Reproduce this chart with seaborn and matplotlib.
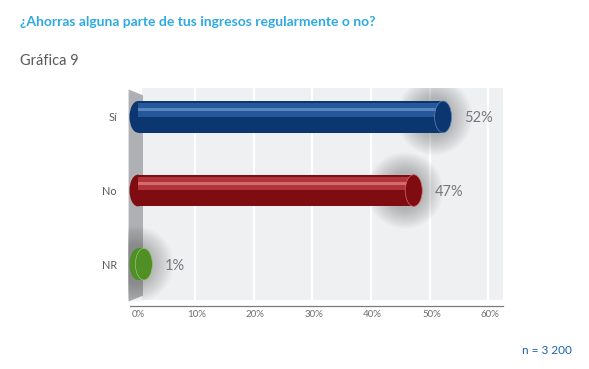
import matplotlib
matplotlib.use("Agg")
import matplotlib.pyplot as plt
from matplotlib.patches import Ellipse, Polygon, Rectangle
import seaborn as sns
import pandas as pd

categories = ["Sí", "No", "NR"]
values = [52, 47, 1]
value_labels = ["52%", "47%", "1%"]
tick_values = [0, 10, 20, 30, 40, 50, 60]
tick_labels = ["0%", "10%", "20%", "30%", "40%", "50%", "60%"]
colors_main = ["#0b3670", "#7e0c10", "#4f8f26"]
colors_top = ["#24589a", "#b0343a", "#72ab44"]
colors_hi = ["#5a86bd", "#d56a6f", "#98c76c"]

sns.set_theme(style="white")
plt.rcParams["font.family"] = ["Lato", "DejaVu Sans"]

fig = plt.figure(figsize=(5.89, 3.69), dpi=100)
W, H = 589, 369
px_left, px_right, px_top, px_bottom = 128, 503, 88, 306
ax = fig.add_axes([px_left / W, 1 - px_bottom / H, (px_right - px_left) / W, (px_bottom - px_top) / H])

x0px, x60px = 138, 490
ppu = (x60px - x0px) / 60.0
xmin = -(x0px - px_left) / ppu
xmax = (px_right - x0px) / ppu
ppy = 74.0
ymin_top = -(117 - px_top) / ppy
ymax_bot = 2 + (px_bottom - 264) / ppy
panel_bottom = 2 + (300 - 264) / ppy

df = pd.DataFrame({"cat": categories, "val": values})
bar_h = 0.43

sns.barplot(data=df, y="cat", x="val", hue="cat", palette=colors_main, orient="h",
            width=bar_h, legend=False, ax=ax, zorder=2, saturation=1, linewidth=0)

# panel background
ax.add_patch(Rectangle((0.6, ymin_top), xmax - 0.6, panel_bottom - ymin_top,
                       facecolor="#eff0f2", edgecolor="none", zorder=0))
for t in tick_values[1:]:
    ax.plot([t - 0.3, t - 0.3], [ymin_top, panel_bottom], color="white", lw=1.6, zorder=0.5)
# side wall
ax.add_patch(Polygon([(xmin + 0.1, ymin_top + 0.02), (0.85, ymin_top + 0.1),
                      (0.85, panel_bottom - 0.06), (xmin + 0.1, panel_bottom + 0.02)],
                     closed=True, facecolor="#aeb0b3", edgecolor="none", zorder=1))

# soft shadows around bar ends
for i, v in enumerate(values):
    n = 12
    for k in range(n):
        g = 1 - k / n
        ax.add_patch(Ellipse((v - 1.5, i), 5.0 + g * 8.0, bar_h + 0.05 + g * 0.55,
                             facecolor="#5a5a5a", edgecolor="none", alpha=0.04, zorder=1.5))

# upper lighter half and highlight stripe
idx = list(range(len(values)))
ax.barh([i - bar_h * 0.2 for i in idx], values, height=bar_h * 0.45,
        color=colors_top, linewidth=0, zorder=2.2)
ax.barh([i - bar_h * 0.22 for i in idx], values, height=bar_h * 0.1,
        color=colors_hi, linewidth=0, zorder=2.3)
ax.barh([i + bar_h * 0.02 for i in idx], values, height=bar_h * 0.05,
        color=colors_main, linewidth=0, zorder=2.3)

# caps
for i, v in enumerate(values):
    ax.add_patch(Ellipse((v, i), 2.9, bar_h, facecolor=colors_main[i],
                         edgecolor=colors_hi[i], lw=0.5, zorder=3))
    ax.add_patch(Ellipse((0, i), 2.9, bar_h, facecolor=colors_main[i],
                         edgecolor="none", zorder=1.9))

for i, (v, lab) in enumerate(zip(values, value_labels)):
    ax.text(v + 3.6, i + 0.02, lab, ha="left", va="center", fontsize=10.5, color="#77787b", zorder=4)

ax.set_xlim(xmin, xmax)
ax.set_ylim(ymax_bot, ymin_top)
ax.set_xticks(tick_values)
ax.set_xticklabels(tick_labels, fontsize=7, color="#6d6e71")
ax.set_yticks(range(len(categories)))
ax.set_yticklabels(categories, fontsize=7.8, color="#58595b")
ax.tick_params(axis="y", length=0, pad=8)
ax.tick_params(axis="x", length=0, pad=3)
ax.set_xlabel("")
ax.set_ylabel("")
for s in ["top", "right", "left"]:
    ax.spines[s].set_visible(False)
ax.spines["bottom"].set_color("#7a7b7e")
ax.spines["bottom"].set_linewidth(0.9)
ax.spines["bottom"].set_bounds(xmin + 0.3, xmax)

fig.text(20 / W, 1 - 22 / H, "¿Ahorras alguna parte de tus ingresos regularmente o no?",
         fontsize=10, fontweight="bold", color="#2eaae1", ha="left", va="center")
fig.text(20 / W, 1 - 61 / H, "Gráfica 9", fontsize=10.5, color="#58595b", ha="left", va="center")
fig.text(572 / W, 1 - 351 / H, "n = 3 200", fontsize=8.5, color="#1b5fae", ha="right", va="center")

fig.savefig("out.png", dpi=100, facecolor="white")
